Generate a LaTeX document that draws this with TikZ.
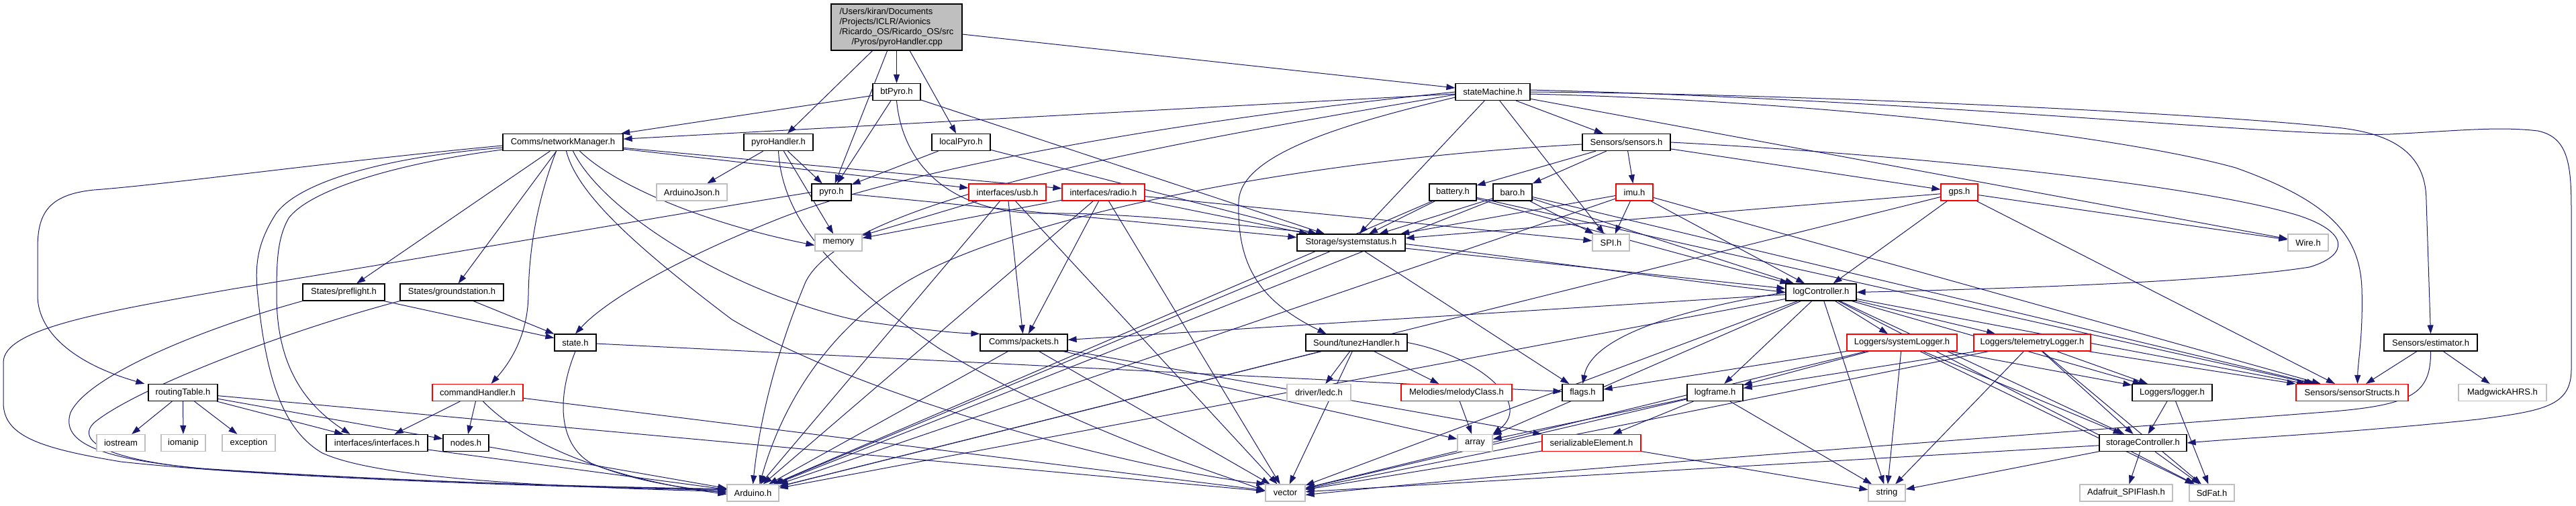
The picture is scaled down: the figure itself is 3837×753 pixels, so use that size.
\documentclass[tikz,border=0pt]{standalone}
\usepackage{fontspec}
\setmainfont{Liberation Sans}
\usetikzlibrary{arrows.meta,backgrounds}
\definecolor{navy}{RGB}{25,25,112}
\definecolor{rootgray}{RGB}{191,191,191}
\definecolor{extgray}{RGB}{191,191,191}
\definecolor{truncred}{RGB}{255,0,0}
\begin{document}
\begin{tikzpicture}[x=1pt,y=-1pt,
  box/.style={draw=black,line width=1.2pt,fill=white,minimum height=25pt,inner sep=0pt,font=\fontsize{13}{15}\selectfont},
  ext/.style={box,draw=extgray},
  trc/.style={box,draw=truncred},
  e/.style={draw=navy,line width=1pt,-{Triangle[length=13pt,width=9pt]}}]
\useasboundingbox (0,0) rectangle (3837,753);
% ---------- nodes ----------
\node[box,fill=rootgray,minimum width=195pt,minimum height=69pt,align=left] (root) at (1335.5,40.5)
  {/Users/kiran/Documents\\/Projects/ICLR/Avionics\\/Ricardo\_OS/Ricardo\_OS/src\\\hspace*{18pt}/Pyros/pyroHandler.cpp};
\node[box,minimum width=71pt] (btp) at (1335.5,137) {btPyro.h};
\node[box,minimum width=111pt] (smh) at (2223.5,137) {stateMachine.h};
\node[box,minimum width=179pt] (nm) at (838.5,212) {Comms/networkManager.h};
\node[box,minimum width=103pt] (ph) at (1159.5,212) {pyroHandler.h};
\node[box,minimum width=87pt] (lp) at (1431.5,212) {localPyro.h};
\node[box,minimum width=131pt] (sen) at (2422.5,212) {Sensors/sensors.h};
\node[ext,minimum width=105pt] (aj) at (1030.5,286.5) {ArduinoJson.h};
\node[box,minimum width=59pt] (pyro) at (1238.5,286.5) {pyro.h};
\node[trc,minimum width=115pt] (usb) at (1500.5,286.5) {interfaces/usb.h};
\node[trc,minimum width=123pt] (radio) at (1643.5,286.5) {interfaces/radio.h};
\node[box,minimum width=70pt] (bat) at (2164,286.5) {battery.h};
\node[box,minimum width=58pt] (baro) at (2253,286.5) {baro.h};
\node[trc,minimum width=55pt] (imu) at (2434.5,286.5) {imu.h};
\node[trc,minimum width=55pt] (gps) at (2918.5,286.5) {gps.h};
\node[ext,minimum width=70pt] (mem) at (1249,361.5) {memory};
\node[box,minimum width=161pt] (sys) at (2012.5,361.5) {Storage/systemstatus.h};
\node[ext,minimum width=55pt] (spi) at (2399.5,361.5) {SPI.h};
\node[ext,minimum width=60pt] (wire) at (3438,361.5) {Wire.h};
\node[box,minimum width=122pt] (pf) at (512,435.5) {States/preflight.h};
\node[box,minimum width=154pt] (gs) at (673,435.5) {States/groundstation.h};
\node[box,minimum width=105pt] (lc) at (2712.5,435.5) {logController.h};
\node[box,minimum width=62pt] (st) at (857,510.5) {state.h};
\node[box,minimum width=130pt] (pk) at (1525,510.5) {Comms/packets.h};
\node[box,minimum width=151pt] (tz) at (2020.5,510.5) {Sound/tunezHandler.h};
\node[trc,minimum width=164pt] (slg) at (2833,510.5) {Loggers/systemLogger.h};
\node[trc,minimum width=174pt] (tlg) at (3027,510.5) {Loggers/telemetryLogger.h};
\node[box,minimum width=139pt] (est) at (3620.5,510.5) {Sensors/estimator.h};
\node[box,minimum width=103pt] (rt) at (272.5,585) {routingTable.h};
\node[trc,minimum width=135pt] (ch) at (711.5,585) {commandHandler.h};
\node[ext,minimum width=95pt] (ledc) at (1964.5,585) {driver/ledc.h};
\node[trc,minimum width=165pt] (mel) at (2169.5,585) {Melodies/melodyClass.h};
\node[box,minimum width=61pt] (flags) at (2357.5,585) {flags.h};
\node[box,minimum width=83pt] (lf) at (2554.5,585) {logframe.h};
\node[box,minimum width=119pt] (lg) at (3235.5,585) {Loggers/logger.h};
\node[trc,minimum width=167pt] (ss) at (3503.5,585) {Sensors/sensorStructs.h};
\node[ext,minimum width=131pt] (mad) at (3727.5,585) {MadgwickAHRS.h};
\node[ext,minimum width=72pt] (ios) at (180,660) {iostream};
\node[ext,minimum width=66pt] (iom) at (273,660) {iomanip};
\node[ext,minimum width=79pt] (exc) at (370.5,660) {exception};
\node[box,minimum width=151pt] (ifc) at (561.5,660) {interfaces/interfaces.h};
\node[box,minimum width=68pt] (nodes) at (694,660) {nodes.h};
\node[ext,minimum width=52pt] (arr) at (2197,660) {array};
\node[trc,minimum width=147pt] (ser) at (2370.5,660) {serializableElement.h};
\node[box,minimum width=130pt] (sc) at (3192,660) {storageController.h};
\node[ext,minimum width=77pt] (ard) at (1121.5,734.5) {Arduino.h};
\node[ext,minimum width=59pt] (vec) at (1914.5,734.5) {vector};
\node[ext,minimum width=55pt] (str) at (2810.5,734.5) {string};
\node[ext,minimum width=138pt] (ada) at (3167,734.5) {Adafruit\_SPIFlash.h};
\node[ext,minimum width=67pt] (sdf) at (3294.5,734.5) {SdFat.h};
% ---------- edges ----------
\begin{scope}[on background layer]
\fill[white] (0,0) rectangle (3837,753);
\foreach \a/\b in {root/ph, root/pyro, root/btp, root/lp, root/smh,
  btp/nm, btp/pyro, btp/sys, lp/pyro, lp/sys,
  smh/nm, smh/sys, smh/spi, smh/sen, smh/wire,
  ph/aj, ph/pyro, ph/mem, pyro/sys,
  nm/pf, nm/gs, nm/usb, nm/radio,
  sen/bat, sen/baro, sen/imu, sen/gps,
  usb/mem, usb/ard, usb/pk, usb/vec,
  radio/mem, radio/ard, radio/pk, radio/vec, radio/spi, radio/sys,
  bat/sys, bat/ard, bat/lc, bat/ss,
  baro/sys, baro/ard, baro/spi, baro/lc, baro/ss,
  imu/sys, imu/spi, imu/ard, imu/lc, imu/ss,
  gps/sys, gps/ard, gps/lc, gps/wire, gps/ss,
  sys/flags, sys/ard, sys/lc, pf/st, gs/st,
  lc/lf, lc/slg, lc/tlg, lc/str, lc/ard, lc/vec, lc/arr, lc/lg, lc/sc, lc/ss, lc/sdf, lc/pk,
  st/flags, pk/ard, pk/vec, pk/ser, pk/arr,
  tz/ledc, tz/mel, tz/vec, tz/ard,
  slg/lf, slg/lg, slg/sc, slg/str, slg/vec, slg/flags, slg/sdf,
  tlg/lf, tlg/lg, tlg/sc, tlg/str, tlg/vec, tlg/ss, tlg/sdf,
  est/ss, est/mad,
  rt/ios, rt/iom, rt/exc, rt/ifc, rt/nodes, rt/vec,
  ch/ifc, ch/nodes, ch/vec, mel/arr,
  lf/arr, lf/ser, lf/vec, lf/str, lg/sc, lg/sdf,
  ser/vec, ser/str, sc/vec, sc/str, sc/ada, sc/sdf,
  nodes/ard, ifc/ard}
  \draw[e] (\a) -- (\b);
% curved connectors
\draw[e] ([xshift=25pt]nm.south) .. controls (920,280) and (1060,335) .. ([yshift=-4pt]mem.west);
\draw[e] ([xshift=15pt]nm.south) .. controls (900,320) and (1100,440) .. (1280,478) .. controls (1380,492) and (1420,496) .. (pk.north west);
\draw[e] ([xshift=5pt]nm.south) .. controls (860,290) and (950,370) .. (1090,476) .. controls (1300,600) and (1700,700) .. (vec.north west);
\draw[e] (tz.east) .. controls (2200,530) and (2285,600) .. (arr.north east);
\draw[e] (lc.west) .. controls (2450,470) and (2368,515) .. (flags.north);
\draw[e] (btp.south) .. controls (1345,250) and (1420,320) .. (1560,318) .. controls (1800,315) and (2350,400) .. (lc.west);
\draw[e] (smh.east) .. controls (2700,140) and (3300,170) .. (3480,190) .. controls (3580,200) and (3614,240) .. (3614,300) -- (est.north);
\draw[e] ([yshift=3pt]smh.east) .. controls (2900,150) and (3400,205) .. (3560,200) .. controls (3660,195) and (3720,188) .. (3780,195) .. controls (3828,205) and (3830,250) .. (3830,320) -- (3830,550) .. controls (3830,605) and (3790,612) .. (3690,625) .. controls (3500,645) and (3350,652) .. (sc.east);
\draw[e] ([yshift=-3pt]smh.east) .. controls (2700,150) and (3150,200) .. (3330,250) .. controls (3470,300) and (3515,350) .. (3518,430) .. controls (3520,500) and (3512,540) .. ([xshift=8pt]ss.north);
\draw[e] (smh.west) .. controls (1700,185) and (1320,260) .. (1150,330) .. controls (1000,390) and (900,450) .. (st.north);
\draw[e] ([yshift=-4pt]smh.west) .. controls (1700,220) and (1260,300) .. (1200,420) .. controls (1150,540) and (1130,640) .. (ard.north);
\draw[e] ([yshift=-8pt]smh.west) .. controls (2000,185) and (1848,230) .. (1845,300) .. controls (1842,400) and (1880,450) .. ([xshift=-45pt]tz.north);
\draw[e] (ph.south) .. controls (1165,330) and (1250,420) .. (1400,520) .. controls (1600,640) and (1800,700) .. ([yshift=3pt]vec.west);
\draw[e] (pyro.west) .. controls (1000,320) and (600,390) .. (350,430) .. controls (150,465) and (5,490) .. (5,540) -- (5,600) .. controls (5,650) and (60,668) .. (180,688) .. controls (400,712) and (800,725) .. ([yshift=4pt]ard.west);
\draw[e] ([yshift=-5pt]nm.west) .. controls (500,240) and (250,275) .. (140,283) .. controls (70,290) and (56,320) .. (56,370) -- (56,440) .. controls (56,500) and (120,545) .. ([xshift=-5pt]rt.north west);
\draw[e] ([yshift=-8pt]nm.west) .. controls (560,235) and (440,275) .. (410,320) .. controls (385,360) and (380,390) .. (383,430) .. controls (395,560) and (420,640) .. (480,675) .. controls (560,712) and (800,725) .. ([yshift=2pt]ard.west);
\draw[e] ([yshift=-11pt]nm.west) .. controls (580,245) and (460,285) .. (430,325) .. controls (413,355) and (412,390) .. (412,440) .. controls (412,540) and (450,600) .. ([xshift=-40pt]ifc.north);
\draw[e] ([xshift=-10pt]nm.south) .. controls (800,300) and (788,370) .. (787,440) .. controls (786,500) and (760,540) .. ([xshift=20pt]ch.north);
\draw[e] (sen.east) .. controls (2800,228) and (3250,270) .. (3420,320) .. controls (3500,345) and (3500,380) .. (3440,398) .. controls (3300,420) and (3000,430) .. (lc.east);
\draw[e] ([yshift=-3pt]sen.west) .. controls (1900,240) and (1500,330) .. (1350,420) .. controls (1220,500) and (1160,620) .. ([xshift=10pt]ard.north);
\draw[e] (pf.south west) .. controls (300,490) and (130,560) .. (105,615) .. controls (90,660) and (150,684) .. (300,698) .. controls (600,718) and (900,726) .. ([yshift=6pt]ard.west);
\draw[e] (gs.south west) .. controls (420,495) and (200,580) .. (140,630) .. controls (110,660) and (170,688) .. (320,700) .. controls (600,718) and (900,726) .. ([yshift=5pt]ard.west);
\draw[e] (st.south) .. controls (830,590) and (830,660) .. (880,690) .. controls (950,720) and (1030,728) .. (ard.west);
\draw[e] ([xshift=8pt]ch.south) .. controls (780,660) and (900,712) .. ([yshift=-2pt]ard.west);
\draw[e] (est.south) .. controls (3621,590) and (3590,605) .. (3450,615) .. controls (3000,650) and (2300,700) .. ([yshift=-3pt]vec.east);
\end{scope}
\end{tikzpicture}
\end{document}
